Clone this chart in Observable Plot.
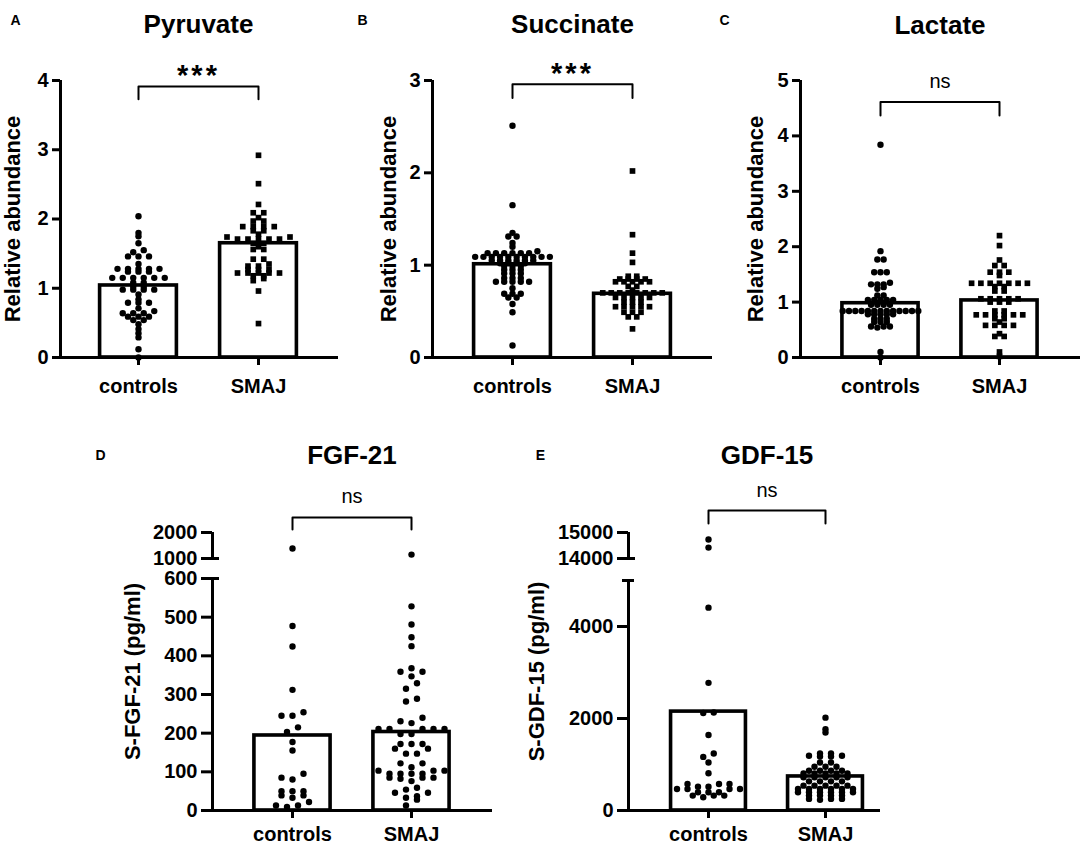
<!DOCTYPE html>
<html><head><meta charset="utf-8">
<script src="https://cdn.jsdelivr.net/npm/d3@7"></script>
<script src="https://cdn.jsdelivr.net/npm/@observablehq/plot@0.6"></script>
<style>
body{margin:0;background:#fff;}
#root{position:relative;width:1084px;height:846px;overflow:hidden;background:#fff;}
#root > svg{position:absolute;overflow:visible;}
</style></head><body><div id="root"></div>
<script>
const groups = ["controls", "SMAJ"];

// Panel A – Pyruvate (relative abundance)
const pyrControls = [2.04,1.80,1.75,1.65,1.55,1.52,1.46,1.46,1.46,1.35,1.28,1.28,1.28,1.28,1.28,1.24,1.24,1.24,1.15,1.15,1.15,1.15,1.15,1.15,1.08,1.08,1.02,1.02,0.98,0.98,0.98,0.98,0.91,0.84,0.79,0.79,0.79,0.71,0.67,0.64,0.64,0.64,0.59,0.59,0.59,0.54,0.54,0.48,0.41,0.35,0.29,0.12,0.0];
const pyrSMAJ = [2.92,2.51,2.21,2.09,2.09,2.02,1.97,1.97,1.89,1.89,1.89,1.89,1.83,1.83,1.78,1.74,1.74,1.71,1.71,1.71,1.71,1.71,1.65,1.65,1.60,1.56,1.56,1.42,1.42,1.35,1.32,1.32,1.27,1.27,1.27,1.22,1.22,1.22,1.22,1.22,1.18,1.18,1.14,1.11,0.96,0.49];
const pyrMeans = [1.04, 1.65];

// Panel B – Succinate
const sucControls = [2.51,1.65,1.35,1.31,1.31,1.24,1.20,1.15,1.13,1.13,1.13,1.13,1.13,1.13,1.09,1.09,1.09,1.09,1.09,1.09,1.09,1.09,1.09,1.09,1.05,1.05,1.05,1.05,1.05,1.05,1.02,1.02,1.02,1.02,0.99,0.99,0.99,0.95,0.95,0.95,0.91,0.91,0.91,0.86,0.86,0.86,0.82,0.82,0.82,0.82,0.82,0.75,0.69,0.69,0.69,0.65,0.65,0.58,0.49,0.13];
const sucSMAJ = [2.02,1.33,1.13,1.03,0.88,0.88,0.85,0.85,0.85,0.85,0.82,0.82,0.82,0.82,0.82,0.77,0.77,0.73,0.70,0.70,0.70,0.70,0.70,0.70,0.70,0.70,0.65,0.65,0.65,0.65,0.65,0.60,0.60,0.60,0.55,0.55,0.55,0.55,0.55,0.49,0.49,0.49,0.44,0.44,0.31];
const sucMeans = [1.01, 0.69];

// Panel C – Lactate
const lacControls = [3.84,1.92,1.77,1.77,1.54,1.54,1.54,1.35,1.32,1.32,1.32,1.27,1.24,1.12,1.12,1.04,1.04,1.04,1.04,1.04,0.99,0.99,0.95,0.95,0.95,0.95,0.84,0.84,0.84,0.84,0.84,0.84,0.84,0.84,0.84,0.84,0.84,0.84,0.84,0.78,0.78,0.78,0.78,0.78,0.70,0.70,0.70,0.64,0.64,0.64,0.56,0.56,0.56,0.54,0.10,0.0];
const lacSMAJ = [2.20,2.02,1.76,1.66,1.66,1.54,1.54,1.54,1.48,1.34,1.34,1.34,1.34,1.34,1.34,1.34,1.28,1.28,1.20,1.20,1.06,1.06,1.06,1.06,1.06,1.00,1.00,1.00,0.84,0.84,0.77,0.77,0.77,0.77,0.77,0.77,0.70,0.70,0.64,0.58,0.58,0.58,0.58,0.43,0.38,0.38,0.10,0.02];
const lacMeans = [0.98, 1.03];

// Panel D – FGF-21 (pg/ml)
const fgfControls = [1385,477,424,312,254,245,245,215,203,177,155,95,85,80,50,50,50,39,39,33,22,13,13,9];
const fgfSMAJ = [1150,528,481,448,425,368,359,359,347,329,315,289,282,240,231,226,211,211,211,211,211,198,198,172,172,172,160,160,147,147,122,122,112,103,103,103,95,95,95,95,85,85,85,82,76,59,54,46,46,37,33,28,13];
const fgfMeans = [194, 203];

// Panel E – GDF-15 (pg/ml)
const gdfControls = [14730,14420,4410,2775,2130,2120,1640,1240,1165,1045,810,577,577,577,519,519,469,469,469,469,396,396,396,324,324,324,288];
const gdfSMAJ = [2018,1766,1694,1240,1240,1190,1190,1175,1175,1045,1045,951,951,951,865,865,865,865,807,807,807,807,807,721,721,721,721,721,634,634,634,634,540,540,540,540,540,468,468,468,468,468,468,396,396,396,396,396,396,324,324,324,324,252,252,252,231];
const gdfMeans = [2150, 740];

// tick labels
const ticksA = [0,1,2,3,4];
const ticksB = [0,1,2,3];
const ticksC = [0,1,2,3,4,5];
const ticksD = [0,100,200,300,400,500,600,1000,2000];
const ticksE = [0,2000,4000,14000,15000];

const FONT = '"Liberation Sans", Arial, Helvetica, sans-serif';

// layout (pixels): baseY = local y of value 0; yPx = height above baseline of each breakpoint in yDomain
const panels = [
  {letter:"A", title:"Pyruvate", ylabel:"Relative abundance", data:[pyrControls,pyrSMAJ], means:pyrMeans, sym:["circle","square"], sig:"***",
   bracket:[3.73,3.915], left:0, top:0, width:360, height:400, axisX:60, axisEnd:338, c0:138, step:120, spacing:[10.5,10.5], binH:[2.2,2.2],
   yDomain:[0,4], baseY:357, yPx:[0,277], yTicks:ticksA, segs:[[0,4]], caps:[], letterX:15, letterY:20, titleY:24, ylabelX:12, tickSize:8, xPad:13},
  {letter:"B", title:"Succinate", ylabel:"Relative abundance", data:[sucControls,sucSMAJ], means:sucMeans, sym:["circle","square"], sig:"***",
   bracket:[2.81,2.96], left:360, top:0, width:360, height:400, axisX:72, axisEnd:352, c0:152, step:120, spacing:[8.3,8.5], binH:[2.2,2.2],
   yDomain:[0,3], baseY:357, yPx:[0,277], yTicks:ticksB, segs:[[0,3]], caps:[], letterX:2, letterY:20, titleY:24, ylabelX:28, tickSize:8, xPad:13},
  {letter:"C", title:"Lactate", ylabel:"Relative abundance", data:[lacControls,lacSMAJ], means:lacMeans, sym:["circle","square"], sig:"ns",
   bracket:[4.37,4.61], left:720, top:0, width:364, height:400, axisX:80, axisEnd:360, c0:160, step:119, spacing:[6.3,9.3], binH:[2.2,2.2],
   yDomain:[0,5], baseY:357, yPx:[0,277], yTicks:ticksC, segs:[[0,5]], caps:[], letterX:4, letterY:20, titleY:25, ylabelX:35, tickSize:8, xPad:13},
  {letter:"D", title:"FGF-21", ylabel:"S-FGF-21 (pg/ml)", data:[fgfControls,fgfSMAJ], means:fgfMeans, sym:["circle","circle"], sig:"ns",
   bracket:[2115,2577], left:0, top:420, width:500, height:426, axisX:212, axisEnd:492, c0:292, step:119, spacing:[11,11], binH:[6,6],
   yDomain:[0,600,1000,2000], baseY:390, yPx:[0,232,252,278], yTicks:ticksD, segs:[[0,600],[1000,2000]],
   caps:[{v:600,l:0,r:7},{v:1000,l:0,r:7}], letterX:100, letterY:35, titleY:35, ylabelX:132, tickSize:11, xPad:8},
  {letter:"E", title:"GDF-15", ylabel:"S-GDF-15 (pg/ml)", data:[gdfControls,gdfSMAJ], means:gdfMeans, sym:["circle","circle"], sig:"ns",
   bracket:[15346,15846], left:500, top:420, width:384, height:426, axisX:128, axisEnd:380, c0:208, step:117, spacing:[10.5,11], binH:[4,2.2],
   yDomain:[0,5000,14000,15000], baseY:390, yPx:[0,230,252,278], yTicks:ticksE, segs:[[0,5000],[14000,15000]],
   caps:[{v:5000,l:6,r:6},{v:14000,l:0,r:7}], letterX:40, letterY:35, titleY:35, ylabelX:36, tickSize:11, xPad:8}
];

// GraphPad-like scatter: values that fall on (almost) the same row are laid side by side, centred on the group
function rowLayout(values, gi, brk, S, step, binH) {
  const pts = values.map(v => ({v, py: brk(v)})).sort((a, b) => a.py - b.py);
  const out = [];
  let row = [];
  const flush = () => {
    const n = row.length;
    const offs = d3.range(n).map(k => (k - (n - 1) / 2) * S)
      .sort((a, b) => Math.abs(a) - Math.abs(b) || a - b);
    row.forEach((p, k) => out.push({x: gi + offs[k] / step, v: p.v, py: p.py}));
    row = [];
  };
  for (const p of pts) {
    if (row.length && p.py - row[0].py > binH) flush();
    row.push(p);
  }
  flush();
  return out;
}

const root = document.getElementById("root");

for (const p of panels) {
  // broken-axis mapping: data value -> display units (pixels above the baseline)
  const brk = d3.scaleLinear().domain(p.yDomain).range(p.yPx);
  const top = p.yPx[p.yPx.length - 1];
  const ml = p.axisX, mr = p.width - p.axisEnd;
  const mt = p.baseY - top, mb = p.height - p.baseY;
  const xmin = -(p.c0 - p.axisX) / p.step;
  const xmax = 1 + (p.axisEnd - (p.c0 + p.step)) / p.step;
  const hw = 0.32;
  const bars = groups.map((g, i) => ({i, mean: p.means[i]}));
  const pts0 = rowLayout(p.data[0], 0, brk, p.spacing[0], p.step, p.binH[0]);
  const pts1 = rowLayout(p.data[1], 1, brk, p.spacing[1], p.step, p.binH[1]);
  const [b0, b1] = p.bracket;
  const bracketPts = [{x: 0, y: b0}, {x: 0, y: b1}, {x: 1, y: b1}, {x: 1, y: b0}];
  const isStar = p.sig === "***";

  const marks = [
    Plot.rect(bars, {x1: d => d.i - hw, x2: d => d.i + hw, y1: () => 0, y2: d => brk(d.mean),
      fill: "white", stroke: "black", strokeWidth: 3.6}),
    Plot.dot(pts0, {x: "x", y: "py", r: 3.2, fill: "black", symbol: p.sym[0]}),
    Plot.dot(pts1, {x: "x", y: "py", r: 3.2, fill: "black", symbol: p.sym[1]}),
    ...p.segs.map(([a, b]) => Plot.ruleX([xmin], {y1: () => brk(a), y2: () => brk(b), strokeWidth: 3, stroke: "black"})),
    ...p.caps.map(c => Plot.ruleY([brk(c.v)], {x1: () => xmin - c.l / p.step, x2: () => xmin + c.r / p.step, strokeWidth: 3, stroke: "black"})),
    Plot.ruleY([0], {x1: () => xmin - 1.5 / p.step, x2: () => xmax, strokeWidth: 3, stroke: "black"}),
    Plot.axisY(p.yTicks.map(t => brk(t)), {tickSize: p.tickSize, tickPadding: 4,
      tickFormat: d => String(Math.round(brk.invert(d))), fontSize: 20,
      fontWeight: "bold", strokeWidth: 3, label: null, stroke: "black", fill: "black"}),
    Plot.axisX([0, 1], {tickSize: 8, tickPadding: p.xPad, tickFormat: i => groups[i], fontSize: 20,
      fontWeight: "bold", strokeWidth: 3, label: null, stroke: "black", fill: "black"}),
    Plot.line(bracketPts, {x: "x", y: d => brk(d.y), stroke: "black", strokeWidth: 2}),
    Plot.text([p.sig], {x: () => 0.5, y: () => brk(b1), text: d => d, lineAnchor: "bottom",
      dy: isStar ? -1 : -14, fontSize: isStar ? 29 : 20, fontWeight: isStar ? "bold" : "normal", fill: "black"}),
    Plot.text([p.title], {x: () => 0.5, frameAnchor: "top", dy: p.titleY - mt, lineAnchor: "middle",
      fontSize: 26, fontWeight: "bold", fill: "black", text: d => d}),
    Plot.text([p.letter], {frameAnchor: "top-left", dx: p.letterX - ml, dy: p.letterY - mt, textAnchor: "middle",
      lineAnchor: "middle", fontSize: 14, fontWeight: "bold", fill: "black", text: d => d}),
    Plot.text([p.ylabel], {frameAnchor: "left", dx: p.ylabelX - ml, rotate: -90, textAnchor: "middle",
      lineAnchor: "middle", fontSize: 22, fontWeight: "bold", fill: "black", text: d => d})
  ];

  const chart = Plot.plot({
    width: p.width, height: p.height,
    marginLeft: ml, marginRight: mr, marginTop: mt, marginBottom: mb,
    x: {domain: [xmin, xmax]},
    y: {domain: [0, top]},
    style: {fontFamily: FONT, color: "black", background: "transparent", overflow: "visible"},
    marks
  });
  chart.querySelectorAll("text").forEach(t => { if (t.textContent === "***") t.style.letterSpacing = "3px"; });
  chart.style.left = p.left + "px";
  chart.style.top = p.top + "px";
  root.appendChild(chart);
}
</script>
</body></html>
